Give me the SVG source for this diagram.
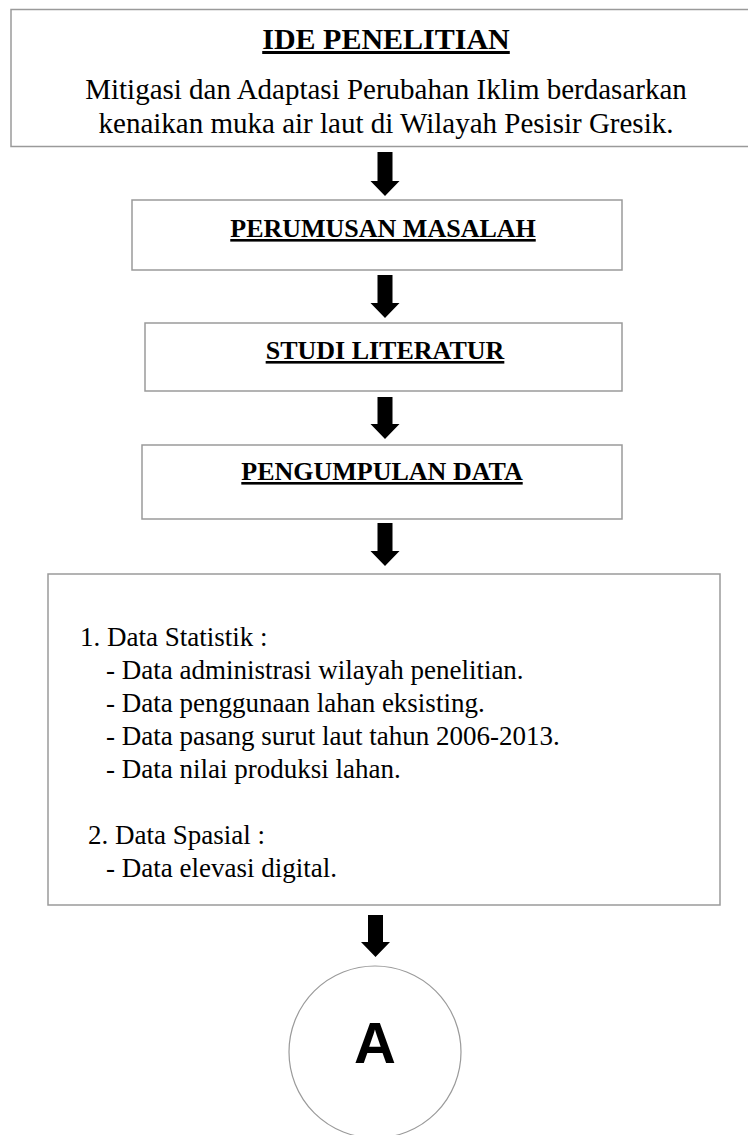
<svg xmlns="http://www.w3.org/2000/svg" width="748" height="1135" viewBox="0 0 748 1135">
<style>
.box{fill:#fff;stroke:#9a9a9a;stroke-width:1.5}
.serif{font-family:"Liberation Serif","Times New Roman",serif;fill:#000}
.hd{font-weight:bold;font-size:26px;text-anchor:middle;text-decoration:underline;text-decoration-thickness:2.5px;text-underline-offset:3px}
.body{font-size:29px;text-anchor:middle}
.item{font-size:27px}
.arrow{fill:#000}
</style>
<rect width="748" height="1135" fill="#fff"/>
<g id="ide-penelitian">
<rect class="box" x="11" y="9.5" width="760" height="137"/>
<text class="serif hd" x="386" y="49" style="font-size:30px">IDE PENELITIAN</text>
<text class="serif body" x="386" y="99">Mitigasi dan Adaptasi Perubahan Iklim berdasarkan</text>
<text class="serif body" x="386" y="133">kenaikan muka air laut di Wilayah Pesisir Gresik.</text>
</g>
<g id="perumusan-masalah">
<rect class="box" x="132" y="200" width="490" height="70"/>
<text class="serif hd" x="383" y="237">PERUMUSAN MASALAH</text>
</g>
<g id="studi-literatur">
<rect class="box" x="145" y="323" width="477" height="68"/>
<text class="serif hd" x="385" y="359">STUDI LITERATUR</text>
</g>
<g id="pengumpulan-data">
<rect class="box" x="142" y="445" width="480" height="74"/>
<text class="serif hd" x="382" y="480">PENGUMPULAN DATA</text>
</g>
<g id="data-list">
<rect class="box" x="48" y="574" width="672" height="331"/>
<text class="serif item" x="80" y="646">1. Data Statistik :</text>
<text class="serif item" x="106" y="679">- Data administrasi wilayah penelitian.</text>
<text class="serif item" x="106" y="712">- Data penggunaan lahan eksisting.</text>
<text class="serif item" x="106" y="745">- Data pasang surut laut tahun 2006-2013.</text>
<text class="serif item" x="106" y="778">- Data nilai produksi lahan.</text>
<text class="serif item" x="88" y="844">2. Data Spasial :</text>
<text class="serif item" x="106" y="877">- Data elevasi digital.</text>
</g>
<g id="connector-a">
<circle cx="375" cy="1052" r="86" fill="#fff" stroke="#9a9a9a" stroke-width="1.2"/>
<text x="375" y="1063" text-anchor="middle" style="font-family:'Liberation Sans',Arial,sans-serif;font-weight:bold;font-size:58px">A</text>
</g>
<g id="connectors">
<path class="arrow" d="M377.5,152 H392.5 V181 H399.5 L385,196 L370.5,181 H377.5 Z"/>
<path class="arrow" d="M377.5,275 H392.5 V303 H399.5 L385,318 L370.5,303 H377.5 Z"/>
<path class="arrow" d="M377.5,397 H392.5 V424 H399.5 L385,439 L370.5,424 H377.5 Z"/>
<path class="arrow" d="M377.5,523 H392.5 V551 H399.5 L385,566 L370.5,551 H377.5 Z"/>
<path class="arrow" d="M368,915 H383 V942 H390 L375.5,957 L361,942 H368 Z"/>
</g>
</svg>
